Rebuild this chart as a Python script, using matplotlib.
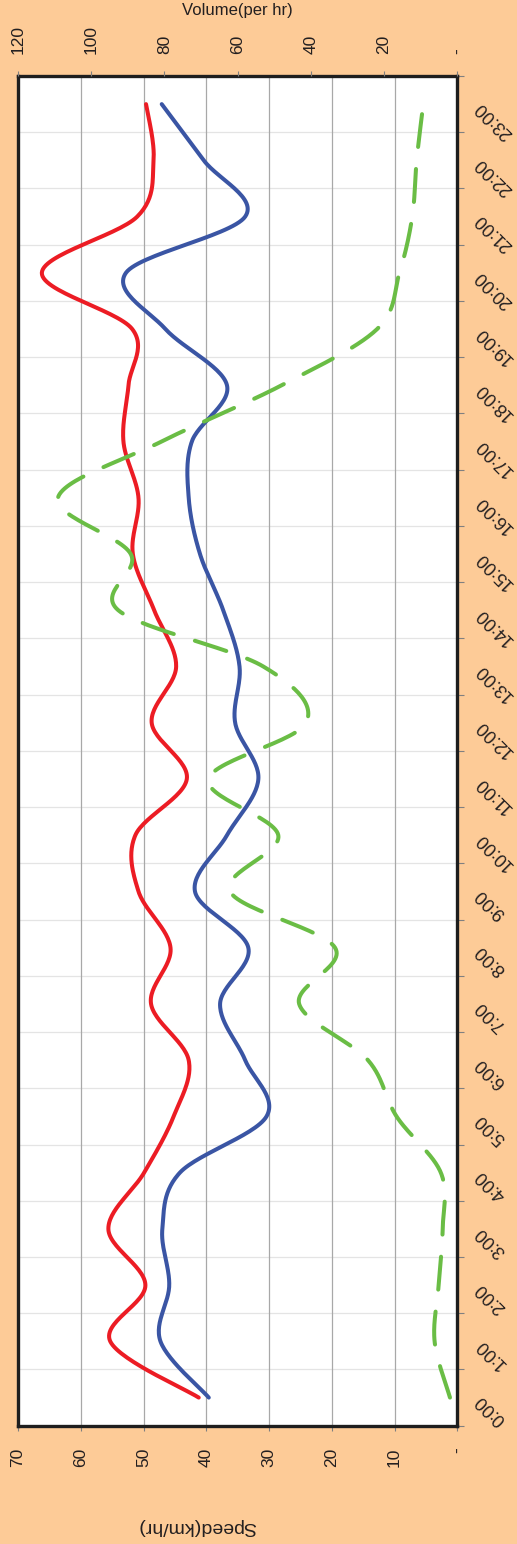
import numpy as np
import matplotlib
matplotlib.use("Agg")
import matplotlib.pyplot as plt
import matplotlib.transforms as mtransforms

# Hourly traffic profile: two speed series (km/hr) and one volume series (per hr)
hours = [f"{h}:00" for h in range(24)]
speed_red = [41.2, 55.3, 49.7, 55.6, 49.9, 45.2, 42.8, 48.8, 45.7, 50.8, 51.3, 43.1,
             48.7, 44.8, 48.3, 51.7, 50.8, 53.2, 52.4, 51.8, 66.2, 51.0, 48.4, 49.6]
speed_blue = [39.6, 47.3, 45.9, 47.0, 44.2, 30.4, 33.8, 37.8, 33.3, 41.8, 36.7, 31.7,
              35.4, 34.7, 37.3, 41.0, 42.8, 42.3, 36.7, 46.5, 52.8, 33.8, 40.4, 47.1]
volume = [2.0, 6.2, 5.1, 4.0, 4.5, 16.6, 24.4, 43.2, 33.4, 62.1, 48.9, 68.0,
          41.3, 53.0, 92.6, 89.2, 109.1, 80.8, 48.0, 21.9, 15.8, 12.3, 11.1, 9.3]
speed_ticks = [0, 10, 20, 30, 40, 50, 60, 70]
volume_ticks = [0, 20, 40, 60, 80, 100, 120]

BG = "#FDCB97"
TXT = "#231F20"


def smooth_curve(values, n=30):
    """Cubic Bezier (Catmull-Rom style) smoothing through every point."""
    pts = np.column_stack([np.array(values, float), np.arange(len(values), dtype=float)])
    out = []
    for i in range(len(pts) - 1):
        p0 = pts[i - 1] if i > 0 else pts[i]
        p1, p2 = pts[i], pts[i + 1]
        p3 = pts[i + 2] if i + 2 < len(pts) else pts[i + 1]
        b1 = p1 + (p2 - p0) / 6.0
        b2 = p2 - (p3 - p1) / 6.0
        t = np.linspace(0, 1, n, endpoint=(i == len(pts) - 2))[:, None]
        seg = ((1 - t) ** 3) * p1 + 3 * ((1 - t) ** 2) * t * b1 + 3 * (1 - t) * t ** 2 * b2 + t ** 3 * p2
        out.append(seg)
    c = np.vstack(out)
    return c[:, 0], c[:, 1]


plt.rcParams["font.family"] = ["Liberation Sans", "DejaVu Sans"]

fig = plt.figure(figsize=(5.17, 15.44), dpi=100, facecolor=BG)
W, H = 517, 1544
x0, x1, ytop, ybot = 18, 457.3, 76, 1425.7
ax = fig.add_axes([x0 / W, 1 - ybot / H, (x1 - x0) / W, (ybot - ytop) / H])
ax.set_facecolor("white")

n = len(hours)
ax.set_ylim(-0.5, n - 0.5)
ax.set_xlim(70, 0)

# grid: speed lines vertical, hour boundaries horizontal
for v in speed_ticks[1:-1]:
    ax.axvline(v, color="#A8A8A8", lw=0.9, zorder=0.5)
for b in np.arange(-0.5, n, 1.0)[1:-1]:
    ax.axhline(b, color="#E4E4E4", lw=0.9, zorder=0.4)

sx, sy = smooth_curve(speed_red)
ax.plot(sx, sy, color="#EC1C24", lw=2.9, solid_capstyle="round", zorder=3)
bx, by = smooth_curve(speed_blue)
ax.plot(bx, by, color="#3A55A4", lw=2.9, solid_capstyle="round", zorder=3)

# speed axis (bottom)
ax.set_xticks(speed_ticks)
ax.set_xticklabels(["-" if v == 0 else str(v) for v in speed_ticks], rotation=90,
                   fontsize=12.5, color=TXT)
ax.tick_params(axis="x", direction="out", length=3.6, width=0.8, color="#808080", pad=12)

# hour axis (right)
ax.yaxis.tick_right()
ax.set_yticks(np.arange(-0.5, n, 1.0))
ax.set_yticklabels([])
ax.tick_params(axis="y", direction="out", length=5, width=0.8, color="#808080")
trans = mtransforms.offset_copy(ax.get_yaxis_transform(), fig=fig, x=15, y=0, units="points")
for i, lab in enumerate(hours):
    ax.text(1.0, i, lab, transform=trans, rotation=135, rotation_mode="anchor",
            ha="right", va="center", fontsize=13, color=TXT)

for s in ax.spines.values():
    s.set_linewidth(2.4)
    s.set_color("#1E1E1E")

# volume axis (top)
ax2 = ax.twiny()
ax2.set_xlim(120, 0)
ax2.set_ylim(-0.5, n - 0.5)
vx, vy = smooth_curve(volume)
ax2.plot(vx, vy, color="#6ABD45", lw=2.9, dashes=(8.2, 5.5), dash_capstyle="round", zorder=4)
ax2.set_xticks(volume_ticks)
ax2.set_xticklabels(["-" if v == 0 else str(v) for v in volume_ticks], rotation=90,
                    fontsize=12.5, color=TXT)
ax2.tick_params(axis="x", direction="out", length=3.6, width=0.8, color="#808080", pad=12)
for s in ax2.spines.values():
    s.set_visible(False)

fig.text(237.5 / W, 1 - 10 / H, "Volume(per hr)", ha="center", va="center",
         fontsize=12, color=TXT)
fig.text(197 / W, 1 - 1526 / H, "Speed(km/hr)", ha="center", va="center",
         rotation=180, fontsize=14, color=TXT)

fig.savefig("out.png", dpi=100, facecolor=BG)
